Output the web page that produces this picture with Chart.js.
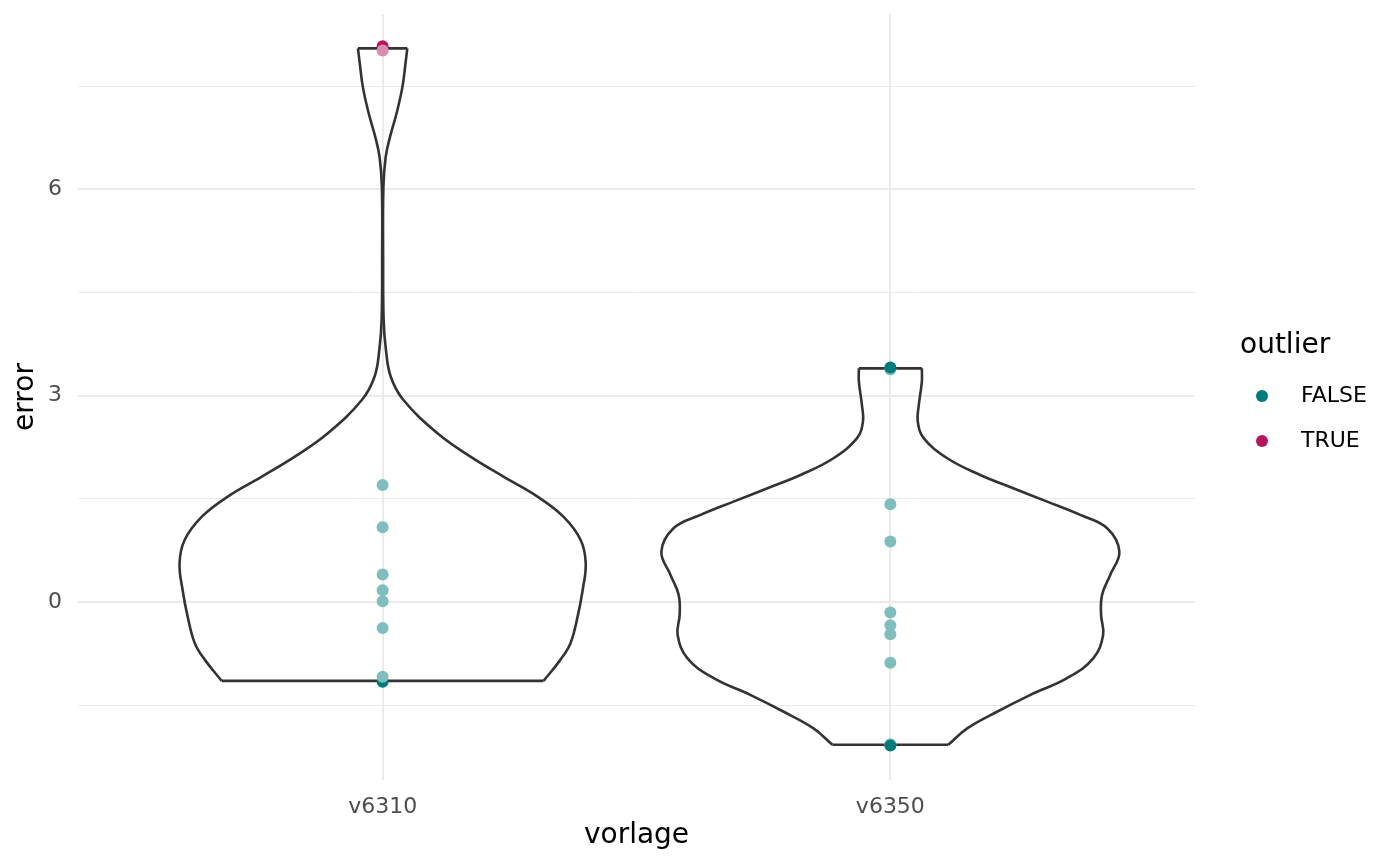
<!DOCTYPE html>
<html>
<head>
<meta charset="utf-8">
<script src="https://cdn.jsdelivr.net/npm/chart.js@4.4.0/dist/chart.umd.min.js"></script>
<style>
  html, body { margin: 0; padding: 0; background: #fff; }
  canvas { display: block; }
</style>
</head>
<body>
<canvas id="chart" width="1400" height="865"></canvas>
<script>
// categories and axis ticks
const categories = ['v6310', 'v6350'];
const yTicks = [-1.5, 0, 1.5, 3, 4.5, 6, 7.5];
const yTickLabels = ['', '0', '', '3', '', '6', ''];

// violin outlines: error value and half width (x units)
const v6310Y    = [-1.148, -0.843, -0.600, -0.214, 0.174, 0.563, 0.901, 1.240, 1.531, 1.821, 2.112, 2.452, 2.936, 3.275, 3.663, 4.10, 4.97, 6.03, 6.47, 6.76, 7.11, 7.49, 7.83, 8.05];
const v6310Half = [0.317, 0.350, 0.370, 0.384, 0.394, 0.400, 0.390, 0.356, 0.305, 0.238, 0.173, 0.108, 0.041, 0.016, 0.0065, 0.002, 0.001, 0.0015, 0.006, 0.0144, 0.0276, 0.039, 0.045, 0.0486];
const v6350Y    = [-2.078, -1.836, -1.594, -1.352, -1.109, -0.818, -0.480, -0.189, 0.102, 0.392, 0.731, 1.071, 1.265, 1.458, 1.653, 1.846, 2.089, 2.379, 2.621, 2.863, 3.202, 3.397];
const v6350Half = [0.114, 0.152, 0.211, 0.276, 0.348, 0.400, 0.419, 0.415, 0.417, 0.433, 0.451, 0.427, 0.374, 0.309, 0.242, 0.177, 0.112, 0.066, 0.054, 0.056, 0.062, 0.062];

// observations
const v6310Err     = [-1.16, 8.08, 8.02, 1.70, 1.085, 0.40, 0.17, 0.01, -0.38, -1.09];
const v6310Outlier = [false, true, true, false, false, false, false, false, false, false];
const v6310Faded   = [false, false, true, true, true, true, true, true, true, true];
const v6350Err     = [3.38, 1.42, 0.88, -0.155, -0.34, -0.47, -0.886, -2.07, 3.41, -2.09];
const v6350Outlier = [false, false, false, false, false, false, false, false, false, false];
const v6350Faded   = [true, true, true, true, true, true, true, true, false, false];

const COL = {
  falseDark: '#007B7B', falseLight: '#80BDBD',
  trueDark: '#B5175E',  trueLight: '#DA8BAE',
  line: '#333333', grid: '#EBEBEB', tick: '#4D4D4D'
};
const FONT = 'DejaVu Sans';

function pointColor(outlier, faded) {
  if (outlier) return faded ? COL.trueLight : COL.trueDark;
  return faded ? COL.falseLight : COL.falseDark;
}

// one violin = right curve, left curve, flat top, flat bottom
function violinSets(center, ys, half) {
  const base = {
    type: 'scatter', showLine: true, borderColor: COL.line, borderWidth: 2.6,
    pointRadius: 0, fill: false, order: 2
  };
  const right = ys.map((y, i) => ({ x: center + half[i], y }));
  const left = ys.map((y, i) => ({ x: center - half[i], y }));
  const n = ys.length - 1;
  return [
    Object.assign({}, base, { data: right, tension: 0.4 }),
    Object.assign({}, base, { data: left, tension: 0.4 }),
    Object.assign({}, base, { data: [left[n], right[n]], tension: 0 }),
    Object.assign({}, base, { data: [left[0], right[0]], tension: 0 })
  ];
}

const pts = [], ptCols = [];
v6310Err.forEach((v, i) => { pts.push({ x: 1, y: v }); ptCols.push(pointColor(v6310Outlier[i], v6310Faded[i])); });
v6350Err.forEach((v, i) => { pts.push({ x: 2, y: v }); ptCols.push(pointColor(v6350Outlier[i], v6350Faded[i])); });

const legendPlugin = {
  id: 'outlierLegend',
  afterDraw(chart) {
    const ctx = chart.ctx;
    ctx.save();
    ctx.textBaseline = 'middle';
    ctx.textAlign = 'left';
    ctx.fillStyle = '#000';
    ctx.font = '28px "' + FONT + '"';
    ctx.fillText('outlier', 1240, 346);
    const items = [['FALSE', COL.falseDark, 396], ['TRUE', COL.trueDark, 441]];
    ctx.font = '22px "' + FONT + '"';
    items.forEach(([label, col, y]) => {
      ctx.beginPath();
      ctx.arc(1262, y, 6, 0, Math.PI * 2);
      ctx.fillStyle = col;
      ctx.fill();
      ctx.fillStyle = '#000';
      ctx.fillText(label, 1301, y);
    });
    ctx.restore();
  }
};

new Chart(document.getElementById('chart'), {
  type: 'scatter',
  data: {
    datasets: [
      {
        data: pts, backgroundColor: ptCols, borderWidth: 0,
        pointRadius: 6, pointHoverRadius: 6, showLine: false, order: 0
      },
      ...violinSets(1, v6310Y, v6310Half),
      ...violinSets(2, v6350Y, v6350Half)
    ]
  },
  options: {
    responsive: false,
    animation: false,
    layout: { padding: { top: 14, right: 205, bottom: 0, left: 0 } },
    plugins: { legend: { display: false }, tooltip: { enabled: false } },
    scales: {
      x: {
        type: 'linear', min: 0.4, max: 2.6,
        afterBuildTicks: s => { s.ticks = [{ value: 1 }, { value: 2 }]; },
        afterFit: s => { s.height = 85; s.paddingLeft = 0; s.paddingRight = 0; },
        ticks: {
          callback: v => categories[v - 1] || '',
          font: { family: FONT, size: 22 }, color: COL.tick, padding: 14, maxRotation: 0
        },
        grid: { color: COL.grid, lineWidth: 2, drawTicks: false },
        border: { display: false },
        title: {
          display: true, text: 'vorlage', color: '#000',
          font: { family: FONT, size: 28 }, padding: { top: 0, bottom: 12 }
        }
      },
      y: {
        min: -2.59, max: 8.55,
        afterBuildTicks: s => { s.ticks = yTicks.map(v => ({ value: v })); },
        afterFit: s => { s.width = 78; s.paddingTop = 0; s.paddingBottom = 0; },
        ticks: {
          callback: (v, i) => yTickLabels[i],
          font: { family: FONT, size: 22 }, color: COL.tick, padding: 16
        },
        grid: {
          color: COL.grid,
          lineWidth: c => (yTickLabels[c.index] ? 2 : 1),
          drawTicks: false
        },
        border: { display: false },
        title: {
          display: true, text: 'error', color: '#000',
          font: { family: FONT, size: 28 }, padding: { top: 9, bottom: 0 }
        }
      }
    }
  },
  plugins: [legendPlugin]
});
</script>
</body>
</html>
